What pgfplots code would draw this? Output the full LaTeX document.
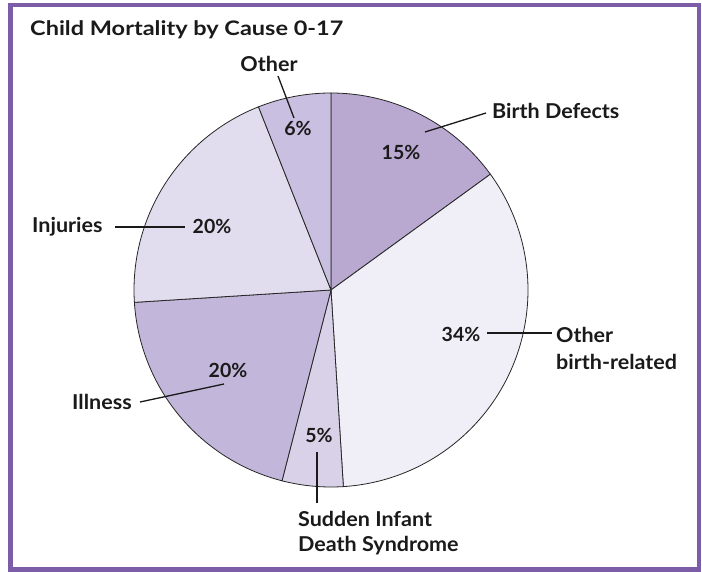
\documentclass[border=0pt]{standalone}
\usepackage{pgfplots}
\usepackage{pgfplotstable}
\usepackage{graphicx}
\pgfplotsset{compat=1.18}
\usepackage{fontspec}
\setmainfont{Lato}
\definecolor{framec}{HTML}{7B5EA7}
\definecolor{c0}{HTML}{B9A9D1}
\definecolor{c1}{HTML}{F0EEF6}
\definecolor{c2}{HTML}{D9D1E8}
\definecolor{c3}{HTML}{C2B6DA}
\definecolor{c4}{HTML}{E2DDEE}
\definecolor{c5}{HTML}{C9BFE0}
\definecolor{txt}{HTML}{1A1A1A}
\newcommand\lab[1]{{\fontsize{20.5}{23}\selectfont\scalebox{1.05}[1]{#1}}}
\pgfplotstableread{
label value
BirthDefects 15
OtherBirthRelated 34
SIDS 5
Illness 20
Injuries 20
Other 6
}\piedata
\begin{document}
\begin{tikzpicture}[x=1pt,y=1pt,font=\fontsize{19.5}{22}\selectfont\bfseries,text=txt]
\useasboundingbox (0,0) rectangle (702,571);
\fill[white] (0,0) rectangle (702,571);
\draw[framec, line width=4.5pt] (10.5,1.5) rectangle (699,566);
\begin{axis}[at={(331pt,281pt)}, anchor=center, width=394pt, height=394pt,
  scale only axis, hide axis, xmin=-1, xmax=1, ymin=-1, ymax=1, clip=false]
\def\cum{90}
\pgfplotsforeachungrouped \i in {0,...,5}{%
  \pgfplotstablegetelem{\i}{value}\of\piedata
  \pgfmathsetmacro{\sEnd}{\cum-3.6*\pgfplotsretval}%
  \edef\temp{\noexpand\addplot[draw=black!85, line width=0.8pt, fill=c\i, domain=\sEnd:\cum, samples=120, variable=\noexpand\ang] ({cos(\noexpand\ang)},{sin(\noexpand\ang)}) -- (axis cs:0,0) -- cycle;}%
  \temp
  \global\let\cum\sEnd
}
\end{axis}
% labels
\node[anchor=base west, inner sep=0, font=\fontsize{20}{22}\selectfont\bfseries] at (30,535.5) {\scalebox{1.175}[1]{Child Mortality by Cause 0-17}};
\node[anchor=base, inner sep=0] at (269,499) {\lab{Other}};
\draw[line width=1.3pt, txt] (278,495) -- (294,453);
\node[inner sep=0] at (298,443) {6\%};
\node[inner sep=0] at (401,419) {15\%};
\draw[line width=1.3pt, txt] (425,439) -- (486,458);
\node[anchor=base west, inner sep=0] at (492,452) {\lab{Birth Defects}};
\node[inner sep=0] at (461,237) {34\%};
\draw[line width=1.3pt, txt] (487,238) -- (552,238);
\node[anchor=base west, inner sep=0] at (556,228) {\lab{Other}};
\node[anchor=base west, inner sep=0] at (556,201) {\lab{birth-related}};
\node[anchor=base west, inner sep=0] at (32,338) {\lab{Injuries}};
\draw[line width=1.3pt, txt] (115,344) -- (185,344);
\node[inner sep=0] at (212,345) {20\%};
\node[inner sep=0] at (228,201) {20\%};
\node[anchor=base west, inner sep=0] at (72,161) {\lab{Illness}};
\draw[line width=1.3pt, txt] (140,169) -- (224,187);
\node[inner sep=0] at (319,136) {5\%};
\draw[line width=1.3pt, txt] (317,119) -- (317,68);
\node[anchor=base west, inner sep=0] at (298,45) {\lab{Sudden Infant}};
\node[anchor=base west, inner sep=0] at (298,20) {\lab{Death Syndrome}};
\end{tikzpicture}
\end{document}
